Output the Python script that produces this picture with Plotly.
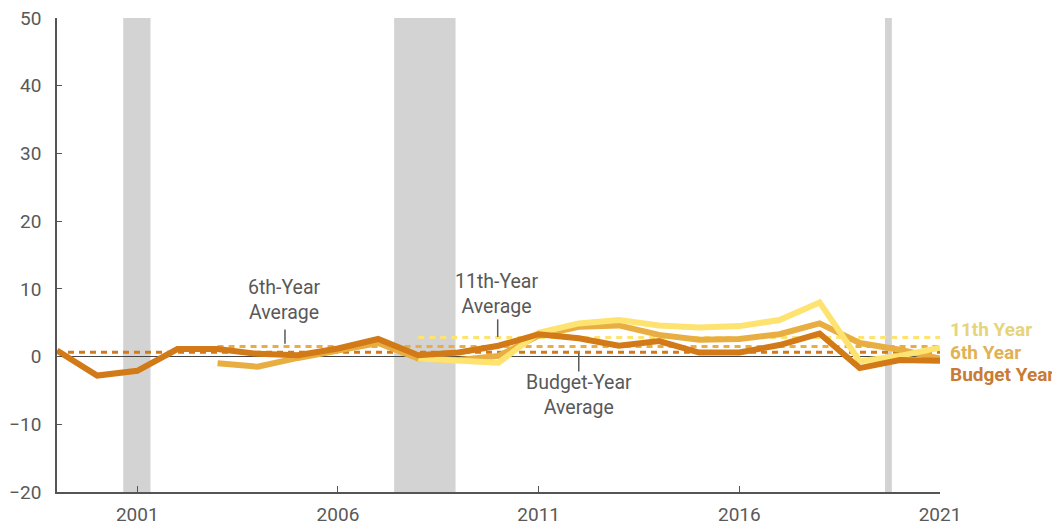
import plotly.graph_objects as go

# ---- data ----
budget_years = list(range(1999, 2022))
budget_vals = [0.9, -2.8, -2.1, 1.1, 1.1, 0.4, 0.2, 1.2, 2.6, 0.2, 0.6, 1.6,
               3.3, 2.7, 1.6, 2.3, 0.6, 0.6, 1.7, 3.4, -1.7, -0.5, -0.6]

sixth_years = list(range(2003, 2022))
sixth_vals = [-1.0, -1.5, -0.2, 1.0, 2.0, -0.3, -0.5, 0.1, 3.1, 4.4, 4.6,
              3.2, 2.5, 2.6, 3.3, 4.9, 2.0, 1.0, -0.3]

eleventh_years = list(range(2008, 2022))
eleventh_vals = [-0.3, -0.6, -0.9, 3.5, 4.9, 5.4, 4.6, 4.3, 4.5, 5.4, 8.0,
                 -0.7, 0.1, 1.3]

budget_avg = 0.65
sixth_avg = 1.5
eleventh_avg = 2.8

recessions = [(2000.65, 2001.33), (2007.4, 2008.93), (2019.63, 2019.8)]

x_ticks = [2001, 2006, 2011, 2016, 2021]
y_ticks = [-20, -10, 0, 10, 20, 30, 40, 50]

# ---- styles ----
C_BUD = "#D17A17"
C_6 = "#E8AE42"
C_11 = "#FEE370"
L_BUD = "#C97B33"
L_6 = "#E2B155"
L_11 = "#E6D47B"
FONT = "Roboto"
GRAY = "#595959"

fig = go.Figure()

# averages
fig.add_trace(go.Scatter(x=[budget_years[0], budget_years[-1]], y=[budget_avg] * 2,
                         mode="lines", line=dict(color=C_BUD, width=3, dash="6px,5px"),
                         hoverinfo="skip", showlegend=False))
fig.add_trace(go.Scatter(x=[sixth_years[0], sixth_years[-1]], y=[sixth_avg] * 2,
                         mode="lines", line=dict(color=C_6, width=3, dash="6px,5px"),
                         hoverinfo="skip", showlegend=False))
fig.add_trace(go.Scatter(x=[eleventh_years[0], eleventh_years[-1]], y=[eleventh_avg] * 2,
                         mode="lines", line=dict(color=C_11, width=3, dash="6px,5px"),
                         hoverinfo="skip", showlegend=False))

# series
fig.add_trace(go.Scatter(x=sixth_years, y=sixth_vals, mode="lines",
                         line=dict(color=C_6, width=6), showlegend=False))
fig.add_trace(go.Scatter(x=eleventh_years, y=eleventh_vals, mode="lines",
                         line=dict(color=C_11, width=6), showlegend=False))
fig.add_trace(go.Scatter(x=budget_years, y=budget_vals, mode="lines",
                         line=dict(color=C_BUD, width=6), showlegend=False))

shapes = []
for a, b in recessions:
    shapes.append(dict(type="rect", xref="x", yref="paper", x0=a, x1=b, y0=0, y1=1,
                       fillcolor="#D3D3D3", line=dict(width=0), layer="below"))
# pointer lines
shapes.append(dict(type="line", xref="x", yref="y", x0=2004.68, x1=2004.68, y0=4.0, y1=1.9,
                   line=dict(color=GRAY, width=1.5)))
shapes.append(dict(type="line", xref="x", yref="y", x0=2009.98, x1=2009.98, y0=5.5, y1=2.9,
                   line=dict(color=GRAY, width=1.5)))
shapes.append(dict(type="line", xref="x", yref="y", x0=2012.0, x1=2012.0, y0=0.5, y1=-2.2,
                   line=dict(color=GRAY, width=1.5)))

annotations = [
    dict(x=2004.68, y=8.3, text="6th-Year<br>Average", showarrow=False,
         font=dict(family=FONT, size=19.5, color=GRAY)),
    dict(x=2009.95, y=9.2, text="11th-Year<br>Average", showarrow=False,
         font=dict(family=FONT, size=19.5, color=GRAY)),
    dict(x=2012.0, y=-5.7, text="Budget-Year<br>Average", showarrow=False,
         font=dict(family=FONT, size=19.5, color=GRAY)),
    dict(x=2021, y=4.0, text="<b>11th Year</b>", showarrow=False, xanchor="left", xshift=8,
         font=dict(family=FONT, size=19, color=L_11)),
    dict(x=2021, y=0.6, text="<b>6th Year</b>", showarrow=False, xanchor="left", xshift=8,
         font=dict(family=FONT, size=19, color=L_6)),
    dict(x=2021, y=-2.6, text="<b>Budget Year</b>", showarrow=False, xanchor="left", xshift=8,
         font=dict(family=FONT, size=19, color=L_BUD)),
]

# page body has an 8px margin, so the figure is sized to fit the window
fig.update_layout(
    width=1052, height=521,
    margin=dict(l=49, r=120, t=10, b=37),
    plot_bgcolor="white", paper_bgcolor="white",
    shapes=shapes, annotations=annotations,
    font=dict(family=FONT, size=19, color=GRAY),
    xaxis=dict(range=[1999, 2021], tickvals=x_ticks, ticktext=[str(v) for v in x_ticks],
               automargin=False, ticklabeloverflow="allow",
               showgrid=False, zeroline=False, showline=True, linecolor="#555", linewidth=1.5,
               ticks="inside", ticklen=6, tickcolor="#555", tickwidth=1,
               ticklabelstandoff=4,
               tickfont=dict(family=FONT, size=19, color=GRAY)),
    yaxis=dict(range=[-20, 50], tickvals=y_ticks, showgrid=False, automargin=False,
               ticklabeloverflow="allow",
               zeroline=True, zerolinecolor="#444", zerolinewidth=1.2,
               showline=True, linecolor="#555", linewidth=1.5,
               ticks="inside", ticklen=5, tickcolor="#555", tickwidth=1,
               ticklabelstandoff=10,
               tickfont=dict(family=FONT, size=19, color=GRAY)),
)

fig.write_html("out.html")
